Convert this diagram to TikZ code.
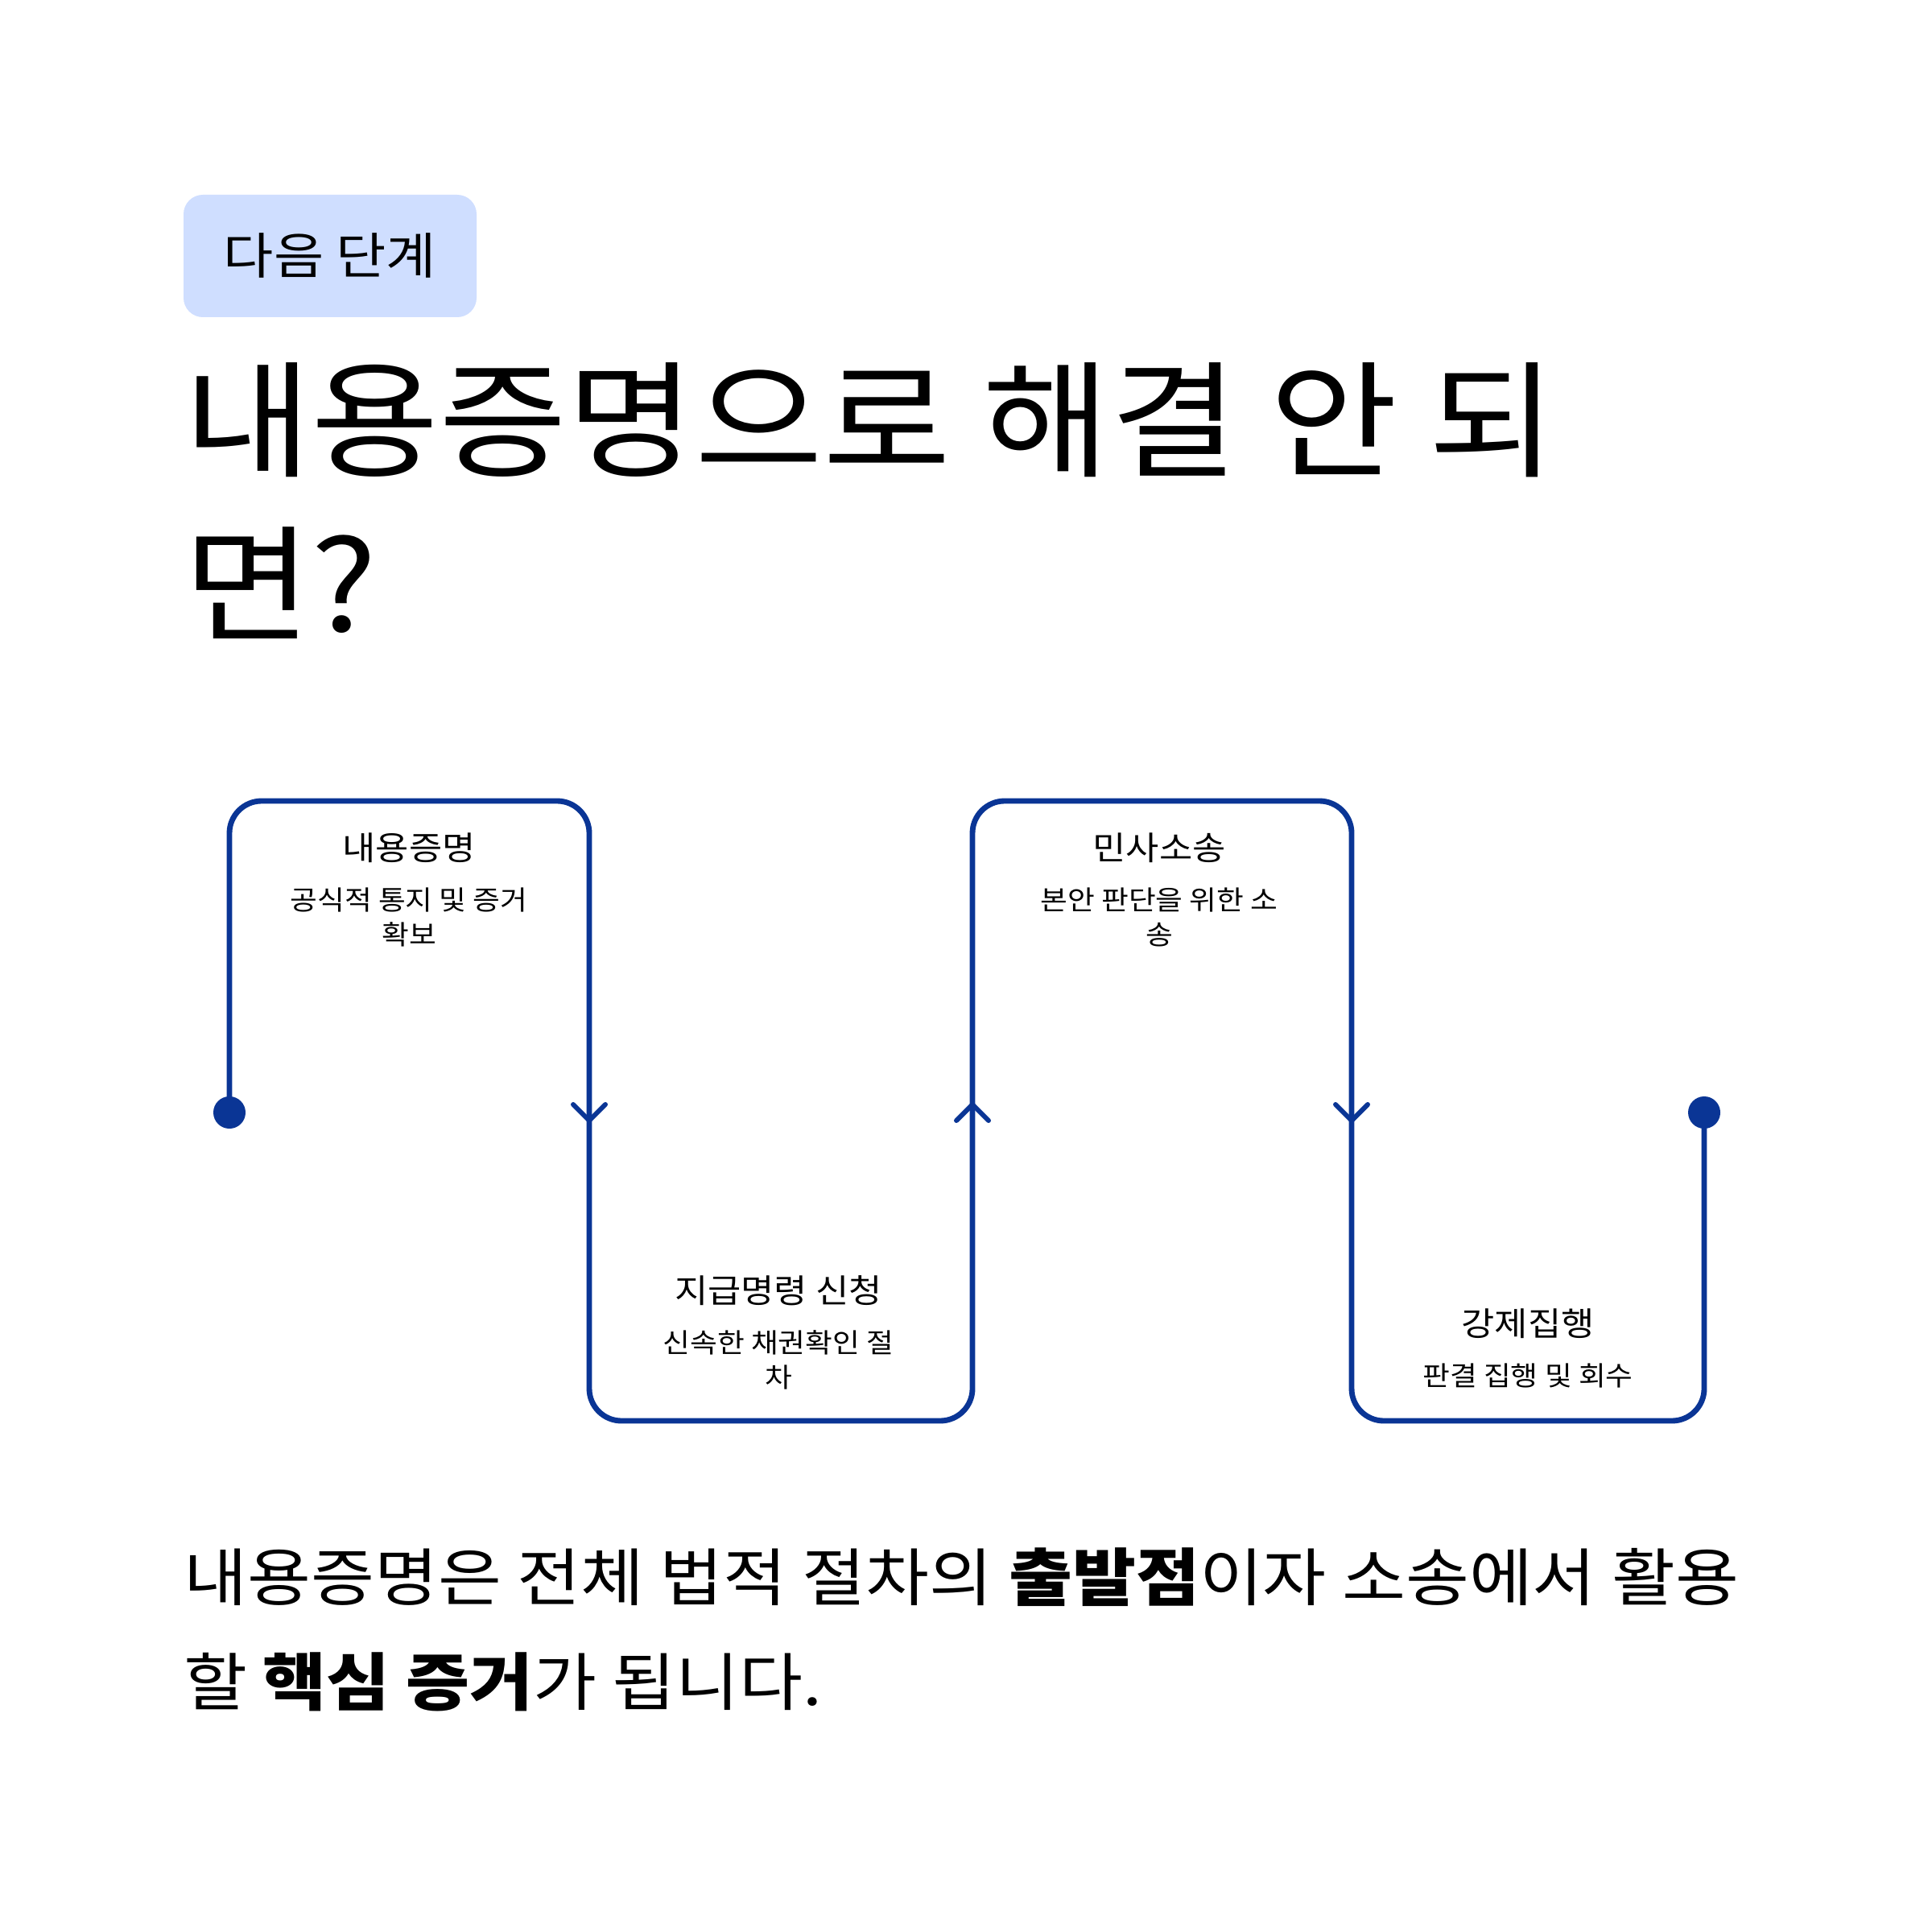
\documentclass[tikz,border=0pt]{standalone}
\usepackage{fontspec}
\setmainfont[FakeStretch=1.1]{Noto Sans CJK KR}
\usetikzlibrary{positioning}
\definecolor{flowblue}{HTML}{0A3595}
\definecolor{tagblue}{HTML}{CFDEFF}

\begin{document}
\begin{tikzpicture}[node distance=0.3cm]
\tikzstyle{tag} = [rectangle, rounded corners=0.24cm, fill=tagblue,
    minimum width=3.64cm, minimum height=1.52cm, font=\fontsize{17.5pt}{20pt}\selectfont]
\tikzstyle{headline} = [inner sep=0pt, align=left, font=\fontsize{44.7pt}{58pt}\selectfont]
\tikzstyle{steptitle} = [inner sep=0pt, font=\fontsize{11.6pt}{14pt}\selectfont]
\tikzstyle{stepnote} = [inner sep=0pt, align=center, font=\fontsize{9.5pt}{12.2pt}\selectfont]
\tikzstyle{summary} = [inner sep=0pt, align=left, font=\fontsize{22.2pt}{37pt}\selectfont]
\tikzstyle{flow} = [draw=flowblue, line width=1.95pt, rounded corners=0.4cm]
\tikzstyle{chev} = [draw=flowblue, line width=1.7pt, line cap=round, line join=round]
\tikzstyle{dot} = [circle, fill=flowblue, inner sep=0pt, minimum size=0.4cm]

\useasboundingbox[fill=white] (0,0) rectangle (24,-24);

% header
\node (tag) [tag] at (4.10,-3.18) {다음 단계};
\node (head) [headline, below=0.55cm of tag.south west, anchor=north west] {내용증명으로 해결 안 되\\면?};

% serpentine line
\coordinate (s) at (2.85,-13.82);
\coordinate (p1) at (2.85,-9.95);
\coordinate (p2) at (7.32,-9.95);
\coordinate (p3) at (7.32,-17.65);
\coordinate (p4) at (12.08,-17.65);
\coordinate (p5) at (12.08,-9.95);
\coordinate (p6) at (16.79,-9.95);
\coordinate (p7) at (16.79,-17.65);
\coordinate (p8) at (21.17,-17.65);
\coordinate (e) at (21.17,-13.82);
\draw[flow] (s) -- (p1) -- (p2) -- (p3) -- (p4) -- (p5) -- (p6) -- (p7) -- (p8) -- (e);
\node (start) [dot] at (s) {};
\node (end) [dot] at (e) {};

% direction marks
\coordinate (m1) at (7.32,-13.82);
\coordinate (m2) at (12.08,-13.82);
\coordinate (m3) at (16.79,-13.82);
\draw[chev] (m1) ++(-0.2,0.1) -- ++(0.2,-0.2) -- ++(0.2,0.2);
\draw[chev] (m2) ++(-0.2,-0.1) -- ++(0.2,0.2) -- ++(0.2,-0.2);
\draw[chev] (m3) ++(-0.2,0.1) -- ++(0.2,-0.2) -- ++(0.2,0.2);

% steps
\node (t1) [steptitle] at (5.08,-10.53) {내용증명};
\node (n1) [stepnote, below=0.3cm of t1] {공식적 통지 및 증거\\확보};
\node (t2) [steptitle] at (9.67,-16.03) {지급명령 신청};
\node (n2) [stepnote, below=0.3cm of t2] {신속한 채권확인 절\\차};
\node (t3) [steptitle] at (14.40,-10.53) {민사소송};
\node (n3) [stepnote, below=0.3cm of t3] {본안 판단을 위한 소\\송};
\node (t4) [steptitle] at (18.98,-16.44) {강제집행};
\node (n4) [stepnote, below=0.3cm of t4] {판결 집행 및 회수};

% closing line
\node (sum) [summary, anchor=north west] at (2.28,-19.22) {내용증명은 전체 법적 절차의 \textbf{출발점}이자 소송에서 활용\\할 \textbf{핵심 증거}가 됩니다.};
\end{tikzpicture}
\end{document}
